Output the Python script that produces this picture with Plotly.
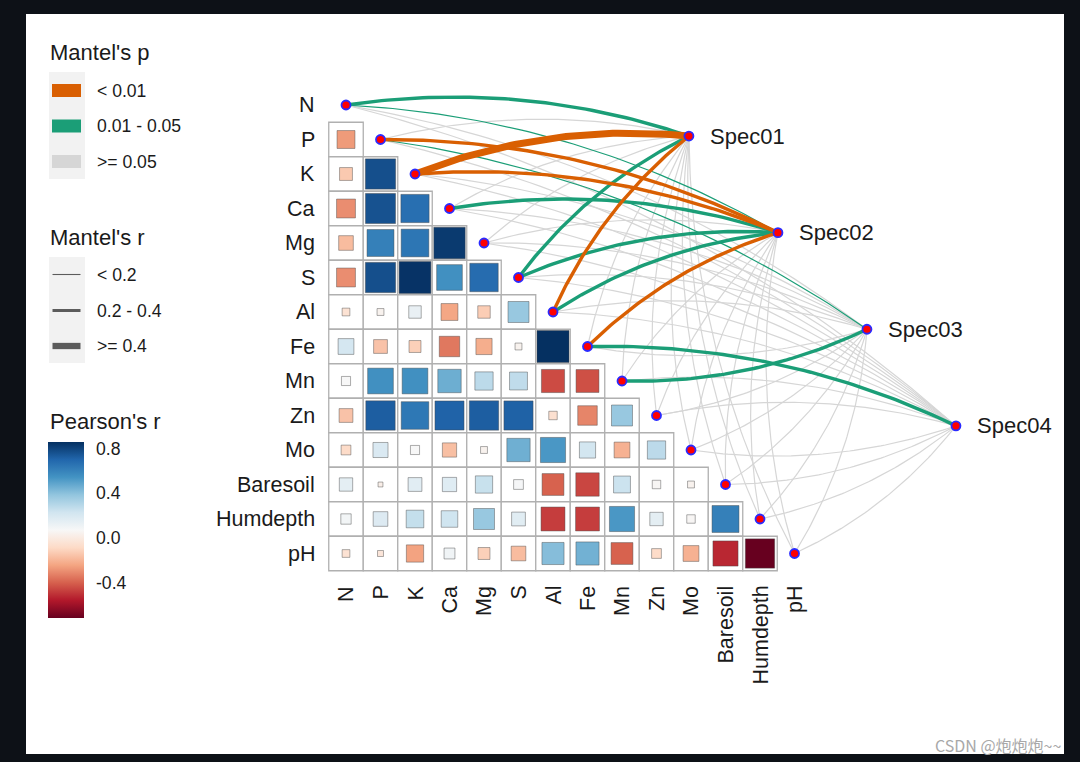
import numpy as np
import plotly.graph_objects as go

# ---------------- data ----------------
variables = ["N", "P", "K", "Ca", "Mg", "S", "Al", "Fe", "Mn", "Zn", "Mo",
             "Baresoil", "Humdepth", "pH"]

# Pearson's r, lower triangle: row holds r(var_i, var_j) for j < i
r_P = [-0.27]
r_K = [-0.14, 0.77]
r_Ca = [-0.30, 0.76, 0.67]
r_Mg = [-0.18, 0.61, 0.645, 0.83]
r_S = [-0.30, 0.77, 0.85, 0.555, 0.68]
r_Al = [-0.05, 0.04, 0.13, -0.24, -0.13, 0.37]
r_Fe = [0.21, -0.16, -0.12, -0.35, -0.22, 0.04, 0.86]
r_Mn = [0.07, 0.555, 0.555, 0.46, 0.28, 0.27, -0.45, -0.44]
r_Zn = [-0.16, 0.725, 0.64, 0.71, 0.725, 0.715, -0.06, -0.32, 0.37]
r_Mo = [-0.08, 0.19, 0.07, -0.17, 0.04, 0.456, 0.53, 0.22, -0.21, 0.28]
r_Baresoil = [0.15, 0.02, 0.16, 0.17, 0.25, 0.08, -0.40, -0.46, 0.24, 0.06, 0.04]
r_Humdepth = [0.09, 0.18, 0.26, 0.23, 0.37, 0.16, -0.48, -0.48, 0.53, 0.15, 0.06, 0.61]
r_pH = [-0.05, -0.03, -0.25, 0.10, -0.12, -0.18, 0.41, 0.45, -0.40, -0.08, -0.21, -0.53, -0.72]

specs = ["Spec01", "Spec02", "Spec03", "Spec04"]
p_levels = ["< 0.01", "0.01 - 0.05", ">= 0.05"]
r_levels = ["< 0.2", "0.2 - 0.4", ">= 0.4"]

# Mantel test classes, one entry per variable (same order as `variables`)
G, O, N_ = "0.01 - 0.05", "< 0.01", ">= 0.05"
T, M, K_ = "< 0.2", "0.2 - 0.4", ">= 0.4"
spec01_p = [G, N_, O, N_, N_, G, O, N_, N_, N_, N_, N_, N_, N_]
spec01_r = [M, T, K_, T, T, M, M, T, T, T, T, T, T, T]
spec02_p = [G, O, O, G, N_, G, G, O, N_, N_, N_, N_, N_, N_]
spec02_r = [T, M, M, M, T, M, M, M, T, T, T, T, T, T]
spec03_p = [N_, G, N_, N_, N_, N_, N_, N_, G, N_, N_, N_, N_, N_]
spec03_r = [T, T, T, T, T, T, T, T, M, T, T, T, T, T]
spec04_p = [N_, N_, N_, N_, N_, N_, N_, G, N_, N_, N_, N_, N_, N_]
spec04_r = [T, T, T, T, T, T, T, M, T, T, T, T, T, T]

# ---------------- layout helpers (pixel -> data units) ----------------
W, H = 1080, 762
PL, PT, PR, PB = 26, 14, 1064, 754
CELL = 34.5
X0, Y0 = 346.0, 105.0


def dx(px):
    return (px - X0) / CELL


def dy(py):
    return (py - Y0) / CELL


FONT = "Liberation Sans, Arial, sans-serif"
TXT = "#1a1a1a"

rows_r = [[], r_P, r_K, r_Ca, r_Mg, r_S, r_Al, r_Fe, r_Mn, r_Zn, r_Mo,
          r_Baresoil, r_Humdepth, r_pH]
cx, cy, vals = [], [], []
for i, row in enumerate(rows_r):
    for j, v in enumerate(row):
        cx.append(j)
        cy.append(i)
        vals.append(v)
cmin, cmax = min(vals), max(vals)

rdbu = ['#67001f', '#b2182b', '#d6604d', '#f4a582', '#fddbc7', '#f7f7f7',
        '#d1e5f0', '#92c5de', '#4393c3', '#2166ac', '#053061']
colorscale = [[k / 10, c] for k, c in enumerate(rdbu)]

fig = go.Figure()

# background cells
fig.add_trace(go.Scatter(
    x=cx, y=cy, mode="markers", hoverinfo="skip", showlegend=False,
    marker=dict(symbol="square", size=CELL, color="white", opacity=1,
                line=dict(color="#b0b0b0", width=1.3))))

# correlation squares
fig.add_trace(go.Scatter(
    x=cx, y=cy, mode="markers", showlegend=False,
    marker=dict(symbol="square", size=[CELL * np.sqrt(abs(v)) for v in vals],
                opacity=1,
                color=vals, colorscale=colorscale, cmin=cmin, cmax=cmax,
                line=dict(color="rgba(70,70,70,0.55)", width=0.8),
                colorbar=dict(
                    x=(48 - PL) / (PR - PL), xanchor="left", xpad=0,
                    y=(PB - 442) / (PB - PT), yanchor="top", ypad=0,
                    len=176, lenmode="pixels", thickness=36,
                    outlinewidth=0, tickvals=[-0.4, 0.0, 0.4, 0.8],
                    ticktext=["-0.4", "0.0", "0.4", "0.8"],
                    ticks="outside", ticklen=9, tickcolor="rgba(0,0,0,0)",
                    tickfont=dict(family=FONT, size=17.6, color=TXT)))))

# ---------------- Mantel links ----------------
spec_x = [9.94 + 2.58 * k for k in range(len(specs))]
spec_y = [0.90 + 2.80 * k for k in range(len(specs))]

p_color = {"< 0.01": "#d95f02", "0.01 - 0.05": "#1b9e77", ">= 0.05": "#d6d6d6"}
r_width = {"< 0.2": 1.2, "0.2 - 0.4": 3.4, ">= 0.4": 7.0}

spec_p = [spec01_p, spec02_p, spec03_p, spec04_p]
spec_r = [spec01_r, spec02_r, spec03_r, spec04_r]


def bezier(p0, p2, side=1.0, k=0.12, n=60):
    p0 = np.array(p0, float)
    p2 = np.array(p2, float)
    d = p2 - p0
    L = np.hypot(*d)
    nrm = np.array([d[1], -d[0]]) / L
    p1 = (p0 + p2) / 2 + side * k * L * nrm
    t = np.linspace(0, 1, n)[:, None]
    pts = (1 - t) ** 2 * p0 + 2 * (1 - t) * t * p1 + t ** 2 * p2
    return list(pts[:, 0]), list(pts[:, 1])


groups = {}
mid_row = (len(variables) - 1) / 2
for s in range(len(specs)):
    for e in range(len(variables)):
        key = (spec_p[s][e], spec_r[s][e])
        # links to lower specs bend away from the spec when the variable lies below it
        side = -1.0 if (spec_y[s] > mid_row - 0.5 and e > spec_y[s]) else 1.0
        xs, ys = bezier((e, e), (spec_x[s], spec_y[s]), side=side)
        gx, gy = groups.setdefault(key, ([], []))
        gx.extend(xs + [None])
        gy.extend(ys + [None])

for p in [">= 0.05", "0.01 - 0.05", "< 0.01"]:
    for r in r_levels:
        if (p, r) in groups:
            gx, gy = groups[(p, r)]
            fig.add_trace(go.Scatter(
                x=gx, y=gy, mode="lines", hoverinfo="skip", showlegend=False,
                line=dict(color=p_color[p], width=r_width[r])))

# nodes
fig.add_trace(go.Scatter(
    x=list(range(len(variables))) + spec_x,
    y=list(range(len(variables))) + spec_y,
    mode="markers", hoverinfo="skip", showlegend=False,
    marker=dict(symbol="circle", size=9, color="#ff0000", opacity=1,
                line=dict(color="#2a2aff", width=1.8))))

ann = []
for i, v in enumerate(variables):
    ann.append(dict(x=dx(317), y=i, text=v, xanchor="right", yanchor="middle",
                    showarrow=False, font=dict(family=FONT, size=21.5, color=TXT)))
    ann.append(dict(x=i, y=dy(584), text=v, textangle=-90, xanchor="center",
                    yanchor="top", showarrow=False,
                    font=dict(family=FONT, size=21.5, color=TXT)))
for k, s in enumerate(specs):
    ann.append(dict(x=spec_x[k] + 19 / CELL, y=spec_y[k], text=s, xanchor="left",
                    yanchor="middle", showarrow=False,
                    font=dict(family=FONT, size=22, color=TXT)))

shapes = []
# legend: Mantel's p
ann.append(dict(x=dx(48), y=dy(52), text="Mantel's p", xanchor="left",
                yanchor="middle", showarrow=False,
                font=dict(family=FONT, size=22, color=TXT)))
shapes.append(dict(type="rect", xref="x", yref="y", x0=dx(49), x1=dx(85),
                   y0=dy(72), y1=dy(179), fillcolor="#f2f2f2", line=dict(width=0),
                   layer="below"))
for k, (p, yc) in enumerate(zip(p_levels, [90.5, 126, 161.5])):
    shapes.append(dict(type="rect", xref="x", yref="y", x0=dx(52), x1=dx(81),
                       y0=dy(yc - 6.5), y1=dy(yc + 6.5),
                       fillcolor=p_color[p], line=dict(width=0)))
    ann.append(dict(x=dx(95), y=dy(yc), text=p, xanchor="left", yanchor="middle",
                    showarrow=False, font=dict(family=FONT, size=17.6, color=TXT)))

# legend: Mantel's r
ann.append(dict(x=dx(48), y=dy(237), text="Mantel's r", xanchor="left",
                yanchor="middle", showarrow=False,
                font=dict(family=FONT, size=22, color=TXT)))
shapes.append(dict(type="rect", xref="x", yref="y", x0=dx(49), x1=dx(85),
                   y0=dy(257), y1=dy(363), fillcolor="#f2f2f2", line=dict(width=0),
                   layer="below"))
for r, yc in zip(r_levels, [274.5, 310.5, 346]):
    shapes.append(dict(type="line", xref="x", yref="y", x0=dx(52.5), x1=dx(80.5),
                       y0=dy(yc), y1=dy(yc),
                       line=dict(color="#5c5c5c", width=r_width[r] * 0.9)))
    ann.append(dict(x=dx(95), y=dy(yc), text=r, xanchor="left", yanchor="middle",
                    showarrow=False, font=dict(family=FONT, size=17.6, color=TXT)))

# legend: Pearson's r title and white tick marks on the colour bar
ann.append(dict(x=dx(48), y=dy(421), text="Pearson's r", xanchor="left",
                yanchor="middle", showarrow=False,
                font=dict(family=FONT, size=22, color=TXT)))
for v in [-0.4, 0.0, 0.4, 0.8]:
    yp = 442 + (cmax - v) / (cmax - cmin) * 176
    for xa, xb in [(48, 55), (77, 84)]:
        shapes.append(dict(type="line", xref="x", yref="y", x0=dx(xa), x1=dx(xb),
                           y0=dy(yp), y1=dy(yp),
                           line=dict(color="rgba(255,255,255,0.8)", width=1)))

# watermark
ann.append(dict(x=dx(1063), y=dy(745), text="CSDN @炮炮炮~~", xanchor="right",
                yanchor="middle", showarrow=False,
                font=dict(family="Noto Sans CJK SC", size=16, color="#a8a8a8")))

fig.update_layout(
    width=W, height=H,
    margin=dict(l=PL, r=W - PR, t=PT, b=H - PB),
    paper_bgcolor="#0d1117", plot_bgcolor="white",
    xaxis=dict(range=[dx(PL), dx(PR)], visible=False, fixedrange=True),
    yaxis=dict(range=[dy(PB), dy(PT)], visible=False, fixedrange=True),
    annotations=ann, shapes=shapes, showlegend=False,
)

fig.write_html(
    "out.html",
    config={"displayModeBar": False},
    post_script="document.body.style.margin='0';"
                "document.body.style.background='#0d1117';",
)
